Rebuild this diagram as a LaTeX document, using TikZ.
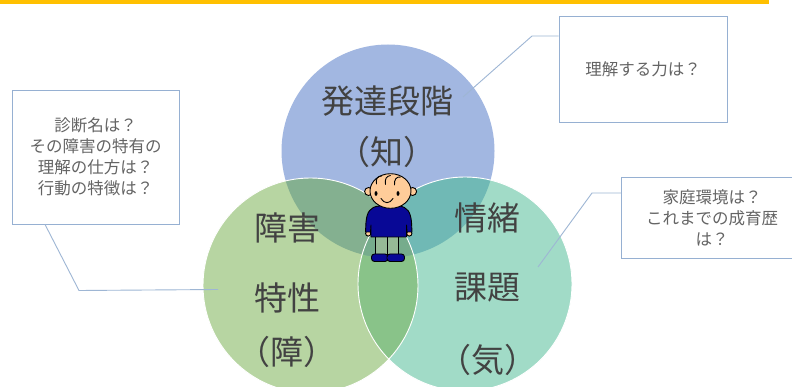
\documentclass[tikz,border=0pt]{standalone}
\usepackage{fontspec}
\setmainfont{Noto Sans CJK JP}
\definecolor{barc}{RGB}{255,192,0}
\definecolor{bluec}{RGB}{162,183,225}
\definecolor{greenc}{RGB}{183,213,162}
\definecolor{tealc}{RGB}{161,219,199}
\definecolor{bgc}{RGB}{132,176,144}
\definecolor{btc}{RGB}{112,185,181}
\definecolor{gtc}{RGB}{137,195,137}
\definecolor{bgtc}{RGB}{118,172,140}
\definecolor{bigtxt}{RGB}{66,66,66}
\definecolor{smalltxt}{RGB}{100,100,100}
\definecolor{boxline}{RGB}{150,176,210}
\definecolor{connc}{RGB}{158,182,212}
\definecolor{shirtc}{RGB}{8,8,150}
\definecolor{skinc}{RGB}{255,204,153}
\definecolor{legc}{RGB}{150,186,150}
\begin{document}
\begin{tikzpicture}[x=1pt,y=-1pt,
  bigtext/.style={inner sep=0pt,text=bigtxt,font=\fontsize{33}{33}\selectfont},
  callout/.style={draw=boxline,line width=0.9pt,fill=white,inner sep=0pt,align=center,text=smalltxt,font=\fontsize{16.5}{21}\selectfont},
  conn/.style={draw=connc,line width=0.9pt},
  rim/.style={draw=white,line width=0.9pt},
  outl/.style={draw=black,line width=0.9pt,line join=round}]
\useasboundingbox (0,0) rectangle (792,387);
\clip (0,0) rectangle (792,387);
\fill[white] (0,0) rectangle (792,387);
\fill[barc] (0,0) rectangle (769,4);
% circles
\fill[bluec] (388,151) circle (106.5);
\fill[tealc] (465,284) circle (107);
\fill[greenc] (310.5,285.5) circle (107.5);
\begin{scope}
  \clip (465,284) circle (107);
  \fill[gtc] (310.5,285.5) circle (107.5);
\end{scope}
\begin{scope}
  \clip (388,151) circle (106.5);
  \fill[btc] (465,284) circle (107);
  \fill[bgc] (310.5,285.5) circle (107.5);
  \clip (465,284) circle (107);
  \fill[bgtc] (310.5,285.5) circle (107.5);
\end{scope}
\draw[rim] (465,284) circle (107);
\draw[rim] (310.5,285.5) circle (107.5);
% circle texts
\node[bigtext] (t1) at (387.5,101) {発達段階};
\node[bigtext] (t2) at (386.5,152) {（知）};
\node[bigtext] (t3) at (287,228) {障害};
\node[bigtext] (t4) at (287,298) {特性};
\node[bigtext] (t5) at (287,352) {（障）};
\node[bigtext] (t6) at (487,218) {情緒};
\node[bigtext] (t7) at (487,288) {課題};
\node[bigtext] (t8) at (488,360) {（気）};
% callouts
\node[callout,minimum width=168pt,minimum height=106pt] (box1) at (643,69) {理解する力は？};
\node[callout,minimum width=167pt,minimum height=134pt] (box2) at (95.5,157) {診断名は？\\その障害の特有の\\理解の仕方は？\\行動の特徴は？};
\node[callout,minimum width=180.6pt,minimum height=81pt] (box3) at (712,217.5) {家庭環境は？\\これまでの成育歴\\は？};
\coordinate (k1) at (532,36);
\coordinate (e1) at (463,97);
\draw[conn] (box1.west |- k1) -- (k1) -- (e1);
\coordinate (s2) at (45,224);
\coordinate (k2) at (79,290.5);
\coordinate (e2) at (218,289.5);
\draw[conn] (box2.south -| s2) -- (k2) -- (e2);
\coordinate (k3) at (592,193);
\coordinate (e3) at (538,267);
\draw[conn] (box3.west |- k3) -- (k3) -- (e3);
% child figure
\filldraw[outl,fill=legc] (375,236) rectangle (387,255.5);
\filldraw[outl,fill=legc] (387,236) rectangle (398.5,255.5);
\filldraw[outl,fill=shirtc,rounded corners=3pt] (371.5,254) rectangle (388,261.5);
\filldraw[outl,fill=shirtc,rounded corners=3pt] (387,254) rectangle (404.5,261.5);
\filldraw[outl,fill=skinc] (368.2,233.5) circle (2.6);
\filldraw[outl,fill=skinc] (409.3,233.5) circle (2.6);
\filldraw[outl,fill=shirtc] (379,206) .. controls (370,207) and (367,212) .. (366,222)
   -- (365.5,232) -- (370.5,232) -- (371,225) -- (371,237) -- (406.5,237)
   -- (406.5,225) -- (407,232) -- (412,232) -- (411.5,222)
   .. controls (410.5,212) and (407.5,207) .. (399,206) -- cycle;
\filldraw[outl,fill=skinc] (368.6,191.5) circle (4);
\filldraw[outl,fill=skinc] (412.6,191.5) circle (4);
\filldraw[outl,fill=skinc] (390.5,191) ellipse (20.5 and 17.3);
\draw[outl,line cap=round] (376.5,184) .. controls (375.5,179) and (377.5,176) .. (381.5,176);
\draw[outl,line cap=round] (385.5,184.5) .. controls (384.5,179) and (386.5,176) .. (390.5,175.5);
\draw[outl,line cap=round] (394.5,185) .. controls (394,179.5) and (396.5,176.5) .. (400.5,177);
\fill[black] (376,193.5) ellipse (1.5 and 2.4);
\fill[black] (398,193.5) ellipse (1.5 and 2.4);
\draw[outl,line cap=round] (381,198.5) .. controls (384,204) and (390,204) .. (393,198.5);
\end{tikzpicture}
\end{document}
